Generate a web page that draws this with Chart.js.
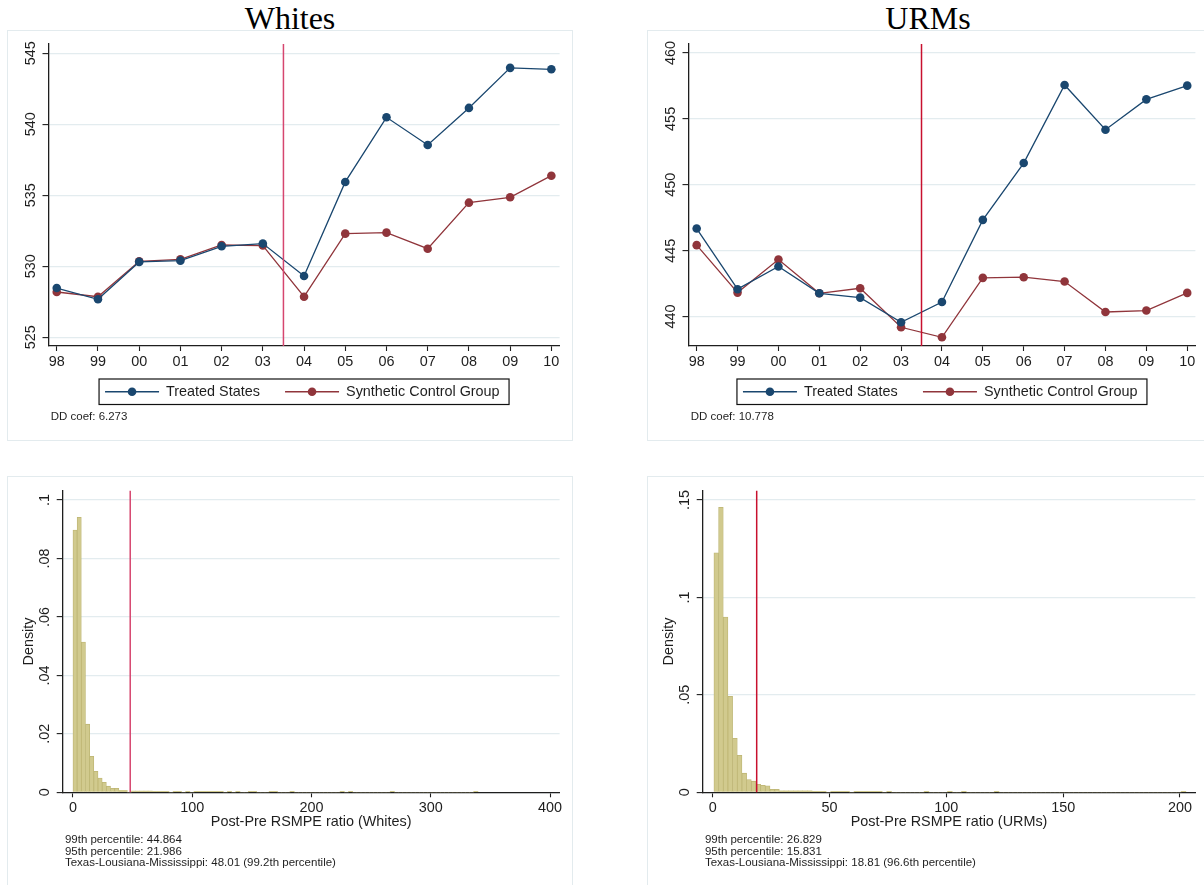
<!DOCTYPE html>
<html>
<head>
<meta charset="utf-8">
<script src="https://cdn.jsdelivr.net/npm/chart.js@4.4.1/dist/chart.umd.min.js"></script>
<style>
html, body { margin: 0; padding: 0; background: #fff; width: 1204px; height: 885px; overflow: hidden; position: relative; }
.box { position: absolute; border: 1px solid #e3ebee; box-sizing: border-box; }
.title { position: absolute; top: 0; font-family: "Liberation Serif", "Times New Roman", serif; font-size: 32px; line-height: 36px; text-align: center; color: #000; }
canvas { position: absolute; }
</style>
</head>
<body>
<div class="box" style="left:7px;top:30px;width:566px;height:411px"></div>
<div class="box" style="left:647px;top:30px;width:600px;height:411px"></div>
<div class="box" style="left:7px;top:476px;width:566px;height:430px"></div>
<div class="box" style="left:647px;top:476px;width:600px;height:430px"></div>
<div class="title" style="left:7px;width:566px">Whites</div>
<div class="title" style="left:647px;width:562px">URMs</div>
<canvas id="tl" width="600" height="460" style="left:0;top:0"></canvas>
<canvas id="tr" width="604" height="460" style="left:600px;top:0"></canvas>
<canvas id="bl" width="600" height="425" style="left:0;top:460px"></canvas>
<canvas id="br" width="604" height="425" style="left:600px;top:460px"></canvas>
<script>
// years on the x axis of the top panels
const yearLabels = ['98', '99', '00', '01', '02', '03', '04', '05', '06', '07', '08', '09', '10'];

const whitesTreated   = [528.47, 527.68, 530.31, 530.40, 531.41, 531.60, 529.32, 535.94, 540.49, 538.54, 541.15, 543.97, 543.87];
const whitesSynthetic = [528.19, 527.86, 530.35, 530.49, 531.50, 531.46, 527.86, 532.30, 532.37, 531.24, 534.48, 534.86, 536.38];
const urmTreated      = [446.68, 442.08, 443.80, 441.77, 441.44, 439.57, 441.11, 447.34, 451.65, 457.57, 454.18, 456.48, 457.52];
const urmSynthetic    = [445.42, 441.82, 444.33, 441.77, 442.15, 439.19, 438.43, 442.94, 442.99, 442.66, 440.35, 440.46, 441.80];

const whitesYTicks = [525, 530, 535, 540, 545];
const urmYTicks = [440, 445, 450, 455, 460];
const treatYear = 5.5; // between 03 and 04

// histogram of post/pre RMSPE ratios (density per bin)
const whitesBinStart = 0, whitesBinWidth = 3.5;
const whitesDensity = [
  0.0897, 0.0941, 0.0514, 0.0233, 0.0123, 0.0072, 0.0049, 0.0034, 0.0021, 0.0014,
  0.0014, 0.0007, 0.0007, 0, 0.0004, 0.0004, 0.0004, 0.0004, 0.0004, 0.0003,
  0.0003, 0.0003, 0.0003, 0, 0.0003, 0.0003, 0, 0.0003, 0, 0.0003,
  0.0003, 0.0003, 0.0003, 0.0003, 0.0003, 0.0003, 0, 0.0003, 0, 0.0003,
  0, 0, 0.0003, 0.0003, 0, 0, 0, 0.0003, 0.0003, 0,
  0, 0, 0.0003, 0, 0, 0, 0, 0, 0, 0,
  0, 0, 0, 0, 0.0003, 0, 0.0003, 0, 0, 0,
  0, 0, 0, 0, 0, 0, 0.0003, 0, 0, 0,
  0, 0, 0, 0, 0, 0, 0, 0, 0, 0,
  0, 0, 0, 0, 0, 0, 0.0003
];
const urmBinStart = 0.5, urmBinWidth = 2;
const urmDensity = [
  0.1229, 0.1462, 0.0899, 0.0493, 0.0277, 0.0190, 0.0098, 0.0065, 0.0057, 0.0041,
  0.0036, 0.0033, 0.0015, 0.0015, 0.0008, 0.0008, 0.0008, 0.0008, 0.0008, 0.0008,
  0.0008, 0.0005, 0.0005, 0.0005, 0, 0.0005, 0.0005, 0.0005, 0.0005, 0,
  0.0005, 0.0005, 0.0005, 0.0005, 0.0005, 0.0005, 0, 0.0005, 0, 0,
  0, 0, 0, 0, 0, 0.0005, 0, 0, 0, 0,
  0.0005, 0, 0, 0.0005, 0, 0, 0, 0, 0, 0,
  0.0005, 0, 0, 0, 0, 0, 0, 0, 0, 0,
  0, 0, 0, 0, 0, 0, 0, 0, 0, 0,
  0, 0, 0, 0, 0, 0, 0, 0, 0, 0,
  0, 0, 0, 0, 0, 0, 0, 0, 0, 0,
  0.0005
];
const whitesHistXTicks = [0, 100, 200, 300, 400];
const urmHistXTicks = [0, 50, 100, 150, 200];
const whitesHistYTicks = [0, 0.02, 0.04, 0.06, 0.08, 0.1];
const whitesHistYLabels = ['0', '.02', '.04', '.06', '.08', '.1'];
const urmHistYTicks = [0, 0.05, 0.1, 0.15];
const urmHistYLabels = ['0', '.05', '.1', '.15'];
const whitesRatio = 48.01;
const urmRatio = 18.81;

const FONT = '"Liberation Sans", Arial, Helvetica, sans-serif';
const INK = '#1e1e1e';
const GRID = '#e3ecef';
const NAVY = '#1a476f';
const MAROON = '#90353b';
const PINK = '#d6466f';
const RED = '#c8102e';
const KHAKI = '#d1ca8e';
const KHAKI_EDGE = '#bdb573';

// extra drawing: reference line, rotated y labels, titles, legend, notes
function decor(cfg) {
  return {
    id: 'decor',
    afterDatasetsDraw(chart) {
      const {ctx, chartArea: a, scales: {x}} = chart;
      const px = x.getPixelForValue(cfg.refX);
      ctx.save();
      ctx.strokeStyle = cfg.refColor;
      ctx.lineWidth = 1.5;
      ctx.beginPath();
      ctx.moveTo(px, a.top);
      ctx.lineTo(px, a.bottom);
      ctx.stroke();
      ctx.restore();
    },
    afterDraw(chart) {
      const {ctx, chartArea: a, scales: {y}} = chart;
      ctx.save();
      ctx.fillStyle = INK;
      ctx.font = '14.4px ' + FONT;
      ctx.textAlign = 'center';
      ctx.textBaseline = 'middle';
      cfg.yTicks.forEach((v, i) => {
        ctx.save();
        ctx.translate(a.left - 17.5, y.getPixelForValue(v));
        ctx.rotate(-Math.PI / 2);
        ctx.fillText(cfg.yLabels[i], 0, 0);
        ctx.restore();
      });
      if (cfg.yTitle) {
        ctx.save();
        ctx.translate(a.left - 33.7, (a.top + a.bottom) / 2);
        ctx.rotate(-Math.PI / 2);
        ctx.fillText(cfg.yTitle, 0, 0);
        ctx.restore();
      }
      if (cfg.xTitle) {
        ctx.fillText(cfg.xTitle, (a.left + a.right) / 2, a.bottom + 30);
      }
      if (cfg.legend) {
        const w = 410, h = 25.5, top = a.bottom + 33;
        const lx = (a.left + a.right) / 2 - w / 2;
        const cy = top + h / 2;
        ctx.strokeStyle = '#111';
        ctx.lineWidth = 1.2;
        ctx.strokeRect(lx, top, w, h);
        chart.data.datasets.forEach((ds, i) => {
          const off = lx + (i === 0 ? 6 : 186);
          ctx.strokeStyle = ds.borderColor;
          ctx.lineWidth = 1.3;
          ctx.beginPath();
          ctx.moveTo(off, cy);
          ctx.lineTo(off + 54, cy);
          ctx.stroke();
          ctx.fillStyle = ds.borderColor;
          ctx.beginPath();
          ctx.arc(off + 27, cy, 4.3, 0, Math.PI * 2);
          ctx.fill();
          ctx.fillStyle = INK;
          ctx.textAlign = 'left';
          ctx.fillText(ds.label, off + 61, cy);
        });
      }
      ctx.font = '11.5px ' + FONT;
      ctx.textAlign = 'left';
      ctx.fillStyle = INK;
      cfg.notes.forEach((t, i) => {
        ctx.fillText(t, a.left + 2.2, a.bottom + cfg.notesOffset + i * 11.6);
      });
      ctx.restore();
    }
  };
}

function lineChart(id, area, w, h, treated, synthetic, yMin, yMax, yTicks, refColor, note) {
  new Chart(document.getElementById(id).getContext('2d'), {
    type: 'line',
    data: {
      datasets: [
        {label: 'Treated States', data: treated.map((v, i) => ({x: i, y: v})),
         borderColor: NAVY, backgroundColor: NAVY, borderWidth: 1.3,
         pointRadius: 4.3, pointBorderWidth: 0, tension: 0},
        {label: 'Synthetic Control Group', data: synthetic.map((v, i) => ({x: i, y: v})),
         borderColor: MAROON, backgroundColor: MAROON, borderWidth: 1.3,
         pointRadius: 4.3, pointBorderWidth: 0, tension: 0}
      ]
    },
    options: {
      responsive: false, animation: false, events: [],
      layout: {padding: {left: 0, top: area.top, right: w - area.right, bottom: h - area.bottom - 20}},
      plugins: {legend: {display: false}, tooltip: {enabled: false}},
      scales: {
        x: {
          type: 'linear', min: -0.2, max: 12.2,
          afterBuildTicks: s => { s.ticks = yearLabels.map((_, i) => ({value: i})); },
          afterFit: s => { s.height = 20; },
          ticks: {callback: v => yearLabels[v], font: {family: FONT, size: 14.4}, color: INK, padding: 2, maxRotation: 0, autoSkip: false},
          grid: {drawOnChartArea: false, tickLength: 5, tickColor: INK, tickWidth: 1.1},
          border: {color: INK, width: 1.3}
        },
        y: {
          min: yMin, max: yMax,
          afterBuildTicks: s => { s.ticks = yTicks.map(v => ({value: v})); },
          afterFit: s => { s.width = area.left; },
          ticks: {display: false},
          grid: {color: GRID, lineWidth: 1.2, tickLength: 6, tickColor: INK, tickWidth: 1.1},
          border: {color: INK, width: 1.3}
        }
      }
    },
    plugins: [decor({refX: treatYear, refColor: refColor, yTicks: yTicks, yLabels: yTicks.map(String),
                     legend: true, notes: [note], notesOffset: 71})]
  });
}

function histChart(id, area, w, h, density, binStart, binWidth, xMin, xMax, xTicks, yMax, yTicks, yLabels, ref, refColor, xTitle, notes) {
  new Chart(document.getElementById(id).getContext('2d'), {
    type: 'bar',
    data: {
      datasets: [{
        data: density.map((d, i) => ({x: binStart + binWidth * (i + 0.5), y: d})),
        backgroundColor: KHAKI, borderColor: KHAKI_EDGE,
        borderWidth: c => (c.raw && c.raw.y > 0.001 ? 0.8 : 0),
        barPercentage: 1, categoryPercentage: 1, grouped: false
      }]
    },
    options: {
      responsive: false, animation: false, events: [],
      layout: {padding: {left: 0, top: area.top, right: w - area.right, bottom: h - area.bottom - 20}},
      plugins: {legend: {display: false}, tooltip: {enabled: false}},
      scales: {
        x: {
          type: 'linear', min: xMin, max: xMax, offset: false,
          afterBuildTicks: s => { s.ticks = xTicks.map(v => ({value: v})); },
          afterFit: s => { s.height = 20; },
          ticks: {font: {family: FONT, size: 14.4}, color: INK, padding: 2, maxRotation: 0, autoSkip: false},
          grid: {offset: false, drawOnChartArea: false, tickLength: 5, tickColor: INK, tickWidth: 1.1},
          border: {color: INK, width: 1.3}
        },
        y: {
          min: 0, max: yMax,
          afterBuildTicks: s => { s.ticks = yTicks.map(v => ({value: v})); },
          afterFit: s => { s.width = area.left; },
          ticks: {display: false},
          grid: {color: GRID, lineWidth: 1.2, tickLength: 6, tickColor: INK, tickWidth: 1.1},
          border: {color: INK, width: 1.3}
        }
      }
    },
    plugins: [decor({refX: ref, refColor: refColor, yTicks: yTicks, yLabels: yLabels,
                     yTitle: 'Density', xTitle: xTitle, notes: notes, notesOffset: 47.7})]
  });
}

lineChart('tl', {left: 48.5, right: 559.6, top: 44, bottom: 346}, 600, 460,
  whitesTreated, whitesSynthetic, 524.39, 545.65, whitesYTicks, PINK, 'DD coef: 6.273');
lineChart('tr', {left: 88.5, right: 595.4, top: 44, bottom: 346}, 604, 460,
  urmTreated, urmSynthetic, 437.77, 460.68, urmYTicks, RED, 'DD coef: 10.778');

histChart('bl', {left: 62.7, right: 559.6, top: 30.7, bottom: 332.3}, 600, 425,
  whitesDensity, whitesBinStart, whitesBinWidth, -8.6, 408, whitesHistXTicks,
  0.10318, whitesHistYTicks, whitesHistYLabels, whitesRatio, PINK,
  'Post-Pre RSMPE ratio (Whites)',
  ['99th percentile: 44.864', '95th percentile: 21.986', 'Texas-Lousiana-Mississippi: 48.01 (99.2th percentile)']);
histChart('br', {left: 102.7, right: 595.4, top: 30.7, bottom: 332.3}, 604, 425,
  urmDensity, urmBinStart, urmBinWidth, -4.3, 206.6, urmHistXTicks,
  0.15477, urmHistYTicks, urmHistYLabels, urmRatio, RED,
  'Post-Pre RSMPE ratio (URMs)',
  ['99th percentile: 26.829', '95th percentile: 15.831', 'Texas-Lousiana-Mississippi: 18.81 (96.6th percentile)']);
</script>
</body>
</html>
